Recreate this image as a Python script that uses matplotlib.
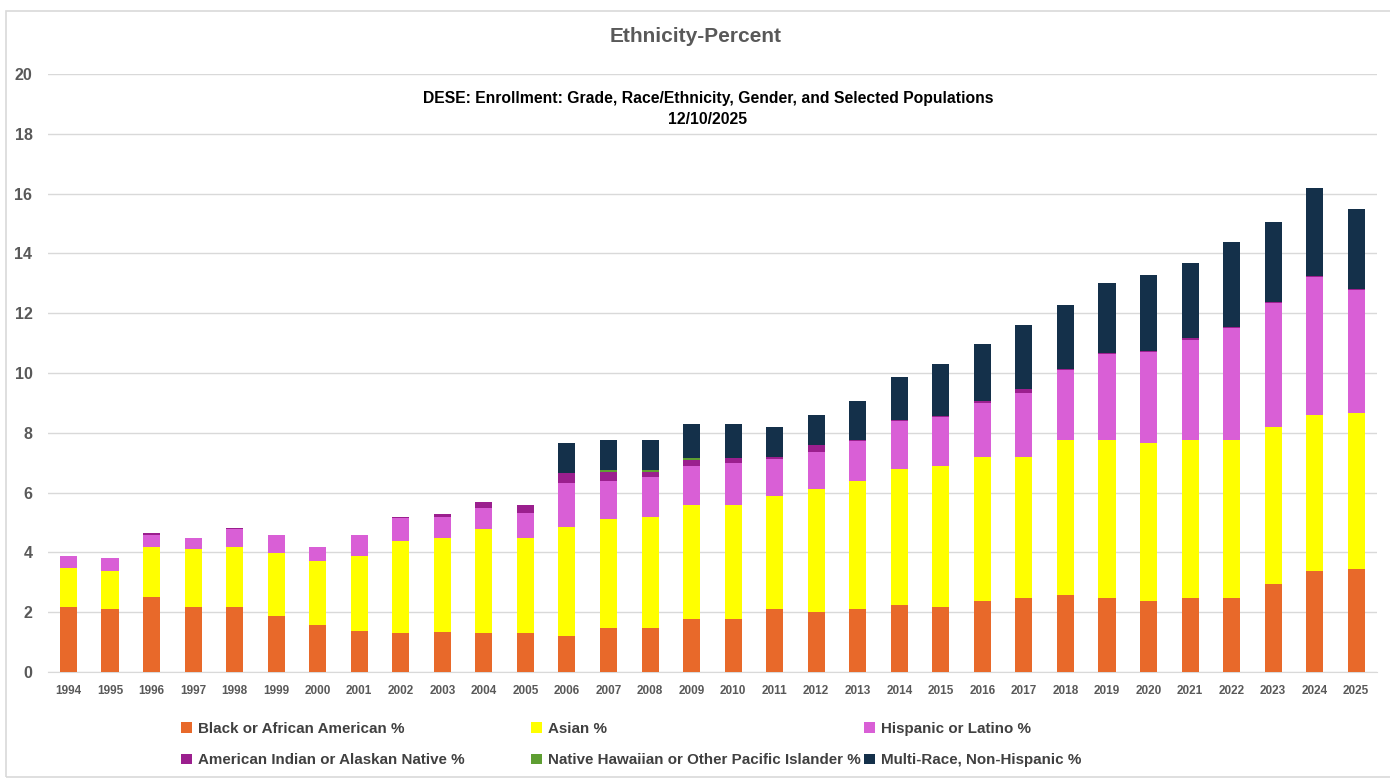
import matplotlib
matplotlib.use("Agg")
import matplotlib.pyplot as plt
from matplotlib import font_manager
from matplotlib.patches import Rectangle, Patch
import numpy as np

years = list(range(1994, 2026))

black_pct = [2.18, 2.10, 2.50, 2.16, 2.16, 1.86, 1.57, 1.38, 1.32, 1.35, 1.29, 1.29,
             1.20, 1.48, 1.48, 1.76, 1.76, 2.10, 2.01, 2.10, 2.25, 2.16, 2.36, 2.48,
             2.57, 2.48, 2.36, 2.48, 2.48, 2.94, 3.37, 3.46]
asian_pct = [1.31, 1.29, 1.67, 1.94, 2.01, 2.13, 2.14, 2.51, 3.07, 3.13, 3.48, 3.20,
             3.66, 3.63, 3.71, 3.83, 3.83, 3.78, 4.10, 4.29, 4.53, 4.73, 4.83, 4.71,
             5.19, 5.28, 5.31, 5.28, 5.28, 5.25, 5.22, 5.21]
hispanic_pct = [0.40, 0.41, 0.41, 0.38, 0.62, 0.59, 0.46, 0.69, 0.75, 0.71, 0.73, 0.84,
                1.45, 1.28, 1.32, 1.31, 1.39, 1.25, 1.26, 1.33, 1.62, 1.63, 1.81, 2.13,
                2.34, 2.86, 3.03, 3.36, 3.74, 4.14, 4.61, 4.09]
amer_indian_pct = [0.0, 0.0, 0.08, 0.0, 0.02, 0.0, 0.0, 0.0, 0.06, 0.09, 0.17, 0.26,
                   0.33, 0.31, 0.19, 0.19, 0.19, 0.05, 0.21, 0.04, 0.03, 0.04, 0.05, 0.14,
                   0.04, 0.04, 0.04, 0.04, 0.04, 0.04, 0.04, 0.04]
hawaiian_pct = [0.0, 0.0, 0.0, 0.0, 0.0, 0.0, 0.0, 0.0, 0.0, 0.0, 0.0, 0.0,
                0.0, 0.05, 0.05, 0.06, 0.0, 0.0, 0.0, 0.0, 0.0, 0.0, 0.0, 0.0,
                0.0, 0.0, 0.0, 0.0, 0.0, 0.0, 0.0, 0.0]
multi_race_pct = [0.0, 0.0, 0.0, 0.0, 0.0, 0.0, 0.0, 0.0, 0.0, 0.0, 0.0, 0.0,
                  1.03, 1.01, 1.01, 1.13, 1.11, 1.00, 1.02, 1.30, 1.45, 1.73, 1.93, 2.13,
                  2.14, 2.34, 2.55, 2.53, 2.84, 2.68, 2.94, 2.69]

series_labels = ["Black or African American %", "Asian %", "Hispanic or Latino %",
                 "American Indian or Alaskan Native %",
                 "Native Hawaiian or Other Pacific Islander %",
                 "Multi-Race, Non-Hispanic %"]
series_values = [black_pct, asian_pct, hispanic_pct, amer_indian_pct, hawaiian_pct, multi_race_pct]
series_colors = ["#E8692A", "#FFFF00", "#D95FD6", "#9B1F8E", "#5E9E32", "#14304A"]

title_text = "Ethnicity-Percent"
subtitle_text = "DESE: Enrollment: Grade, Race/Ethnicity, Gender, and Selected Populations\n12/10/2025"

available = {f.name for f in font_manager.fontManager.ttflist}
narrow = "Liberation Sans Narrow" if "Liberation Sans Narrow" in available else "Liberation Sans"
plt.rcParams["font.family"] = [narrow, "DejaVu Sans"]

W, H = 1390, 780
fig = plt.figure(figsize=(W / 100, H / 100), dpi=100)
fig.patch.set_facecolor("white")

# outer chart frame
fig.patches.append(Rectangle((6 / W, 3 / H), (W + 20) / W, (H - 11) / H - 3 / H,
                             transform=fig.transFigure, fill=False,
                             edgecolor="#D9D9D9", linewidth=1.2))

ax = fig.add_axes([47.7 / W, (H - 672) / H, (1377 - 47.7) / W, (672 - 74) / H])
x = np.arange(len(years))
bottom = np.zeros(len(years))
handles = []
for vals, lab, col in zip(series_values, series_labels, series_colors):
    v = np.array(vals)
    ax.bar(x, v, bottom=bottom, width=0.41, color=col, label=lab, zorder=3)
    bottom += v
    handles.append(Patch(facecolor=col, label=lab))

ax.set_xlim(-0.5, len(years) - 0.5)
ax.set_ylim(0, 20)
ax.set_yticks(np.arange(0, 21, 2))
ax.set_xticks(x)
ax.set_xticklabels([str(y) for y in years])
ax.grid(axis="y", color="#D9D9D9", linewidth=1.0, zorder=0)
for s in ["top", "right", "left"]:
    ax.spines[s].set_visible(False)
ax.spines["bottom"].set_color("#D9D9D9")
ax.tick_params(axis="y", length=0, pad=11, labelsize=11.5, labelcolor="#595959")
ax.tick_params(axis="x", length=0, pad=9, labelsize=8.5, labelcolor="#595959")
for lbl in ax.get_yticklabels() + ax.get_xticklabels():
    lbl.set_fontweight("bold")

fig.text(696 / W, 1 - 37 / H, title_text, ha="center", va="center",
         fontsize=15, fontweight="bold", color="#595959")
fig.text(708 / W, 1 - 109 / H, subtitle_text, ha="center", va="center",
         fontsize=11.3, fontweight="bold", color="#000000", linespacing=1.45)

# legend, three columns of two entries
col_x = [181, 531, 864]
for ci, cx in enumerate(col_x):
    hs = [handles[ci], handles[ci + 3]]
    leg = fig.legend(handles=hs, loc="upper left",
                     bbox_to_anchor=(cx / W, 1 - 722 / H),
                     frameon=False, handlelength=0.7, handleheight=0.7,
                     handletextpad=0.45, labelspacing=1.15, borderpad=0, borderaxespad=0,
                     prop={"size": 10.9, "weight": "bold", "family": [narrow, "DejaVu Sans"]})
    for t in leg.get_texts():
        t.set_color("#404040")

fig.savefig("out.png", dpi=100, facecolor="white")
